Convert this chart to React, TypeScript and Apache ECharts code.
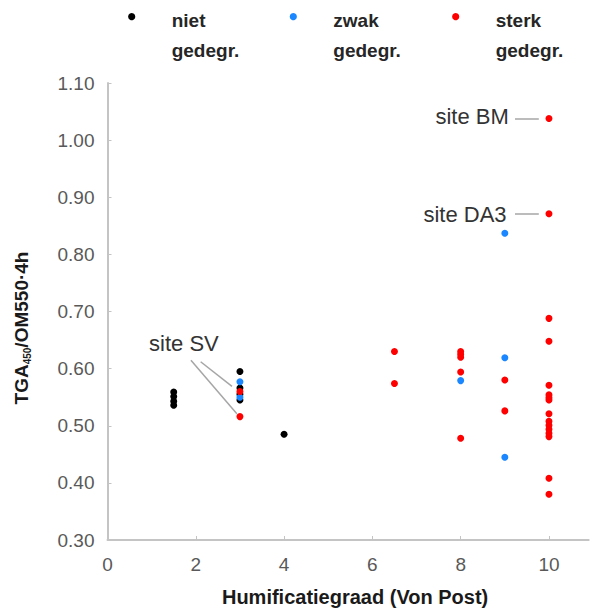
import React, { useEffect, useRef } from "react";
import * as echarts from "echarts";

// ---- data (x = Humificatiegraad, y = TGA450/OM550·4h) ----
const seriesNames = ["niet\ngedegr.", "zwak\ngedegr.", "sterk\ngedegr."];
const seriesColors = ["#000000", "#1a86ff", "#ff0000"];

const nietGedegr: [number, number][] = [
  [1.5, 0.559], [1.5, 0.551], [1.5, 0.543], [1.5, 0.536],
  [3, 0.595], [3, 0.566], [3, 0.555], [3, 0.545],
  [4, 0.485],
];
const zwakGedegr: [number, number][] = [
  [3, 0.577], [3, 0.55],
  [8, 0.579],
  [9, 0.837], [9, 0.619], [9, 0.445],
];
const sterkGedegr: [number, number][] = [
  [3, 0.56], [3, 0.516],
  [6.5, 0.63], [6.5, 0.574],
  [8, 0.63], [8, 0.625], [8, 0.62], [8, 0.594], [8, 0.478],
  [9, 0.58], [9, 0.526],
  [10, 1.038], [10, 0.871], [10, 0.688], [10, 0.648], [10, 0.571], [10, 0.554],
  [10, 0.549], [10, 0.545], [10, 0.521], [10, 0.508], [10, 0.501], [10, 0.494],
  [10, 0.487], [10, 0.481], [10, 0.408], [10, 0.38],
];

const xTicks = [0, 2, 4, 6, 8, 10];
const xTitle = "Humificatiegraad (Von Post)";

// annotations (data coordinates)
const siteLabels = [
  { text: "site BM", coord: [9.09, 1.041], position: "left" },
  { text: "site DA3", coord: [9.04, 0.87], position: "left" },
  { text: "site SV", coord: [1.73, 0.644], position: "inside" },
];
const leaderLines: [number, number][][] = [
  [[9.23, 1.038], [9.77, 1.038]],
  [[9.23, 0.871], [9.77, 0.871]],
  [[1.89, 0.6145], [2.93, 0.521]],
  [[2.11, 0.612], [2.82, 0.569]],
];

const FONT = "Liberation Sans, Arial, sans-serif";

export default function App() {
  const ref = useRef<HTMLDivElement>(null);
  useEffect(() => {
    if (!ref.current) return;
    const chart = echarts.init(ref.current, null, { renderer: "svg" });
    const allData = [nietGedegr, zwakGedegr, sterkGedegr];
    const legendX = [131.7, 293.3, 455.7];
    const graphic: any[] = [];
    seriesNames.forEach((n, i) => {
      graphic.push({
        type: "circle",
        shape: { cx: legendX[i], cy: 16.7, r: 3.6 },
        style: { fill: seriesColors[i] },
      });
      graphic.push({
        type: "text",
        x: legendX[i] + 40,
        y: 5,
        style: {
          text: n,
          fontFamily: FONT,
          fontWeight: "bold",
          fontSize: 19,
          lineHeight: 30,
          fill: "#262626",
          align: "left",
          verticalAlign: "top",
        },
      });
    });
    graphic.push({
      type: "text",
      x: 21,
      y: 328,
      rotation: Math.PI / 2,
      style: {
        text: "{b|TGA}{s|450}{b|/OM550·4h}",
        align: "center",
        verticalAlign: "middle",
        fill: "#1a1a1a",
        rich: {
          b: { fontFamily: FONT, fontWeight: "bold", fontSize: 19, lineHeight: 24, fill: "#1a1a1a" },
          s: {
            fontFamily: FONT, fontWeight: "bold", fontSize: 10, lineHeight: 24, fill: "#1a1a1a",
            padding: [12, 0, 0, 0],
          },
        },
      },
    });

    const series: any[] = allData.map((d, i) => ({
      type: "scatter",
      name: seriesNames[i],
      data: d,
      symbol: "circle",
      symbolSize: 7,
      itemStyle: { color: seriesColors[i], opacity: 1 },
      z: 3 + i,
    }));
    series.push({
      type: "scatter",
      name: "annotations",
      data: [],
      silent: true,
      markLine: {
        silent: true,
        symbol: ["none", "none"],
        label: { show: false },
        lineStyle: { color: "#a6a6a6", width: 1.5, type: "solid" },
        data: leaderLines.map((l) => [{ coord: l[0] }, { coord: l[1] }]),
      },
      markPoint: {
        silent: true,
        symbol: "circle",
        symbolSize: 0,
        data: siteLabels.map((s) => ({
          coord: s.coord,
          label: {
            show: true,
            formatter: s.text,
            position: s.position,
            distance: 0,
            fontFamily: FONT,
            fontSize: 22,
            color: "#333333",
          },
        })),
      },
    });

    chart.setOption({
      animation: false,
      backgroundColor: "#ffffff",
      grid: { left: 107.5, right: 1.3, top: 83, bottom: 70, containLabel: false },
      xAxis: {
        type: "value",
        min: 0,
        max: 10.9,
        interval: 2,
        name: xTitle,
        nameLocation: "middle",
        nameGap: 47,
        nameTextStyle: {
          fontFamily: FONT, fontWeight: "bold", fontSize: 20, color: "#1a1a1a",
          padding: [0, 0, 0, 14],
        },
        axisLine: { lineStyle: { color: "#c4c4c4", width: 2 } },
        axisTick: { show: true, inside: true, length: 4, customValues: xTicks, lineStyle: { color: "#c4c4c4" } },
        axisLabel: {
          customValues: xTicks,
          fontFamily: FONT, fontSize: 19, color: "#595959", margin: 15,
        },
        splitLine: { show: false },
      },
      yAxis: {
        type: "value",
        min: 0.3,
        max: 1.1,
        interval: 0.1,
        axisLine: { show: true, lineStyle: { color: "#c4c4c4", width: 2 } },
        axisTick: { show: true, inside: true, length: 4, lineStyle: { color: "#c4c4c4" } },
        axisLabel: {
          fontFamily: FONT, fontSize: 19, color: "#595959", margin: 13,
          formatter: (v: number) => v.toFixed(2),
        },
        splitLine: { show: false },
      },
      graphic,
      series,
    });
    return () => chart.dispose();
  }, []);
  return (
    <div
      ref={ref}
      style={{ position: "fixed", left: 0, top: 0, width: 590, height: 612, background: "#fff" }}
    />
  );
}
